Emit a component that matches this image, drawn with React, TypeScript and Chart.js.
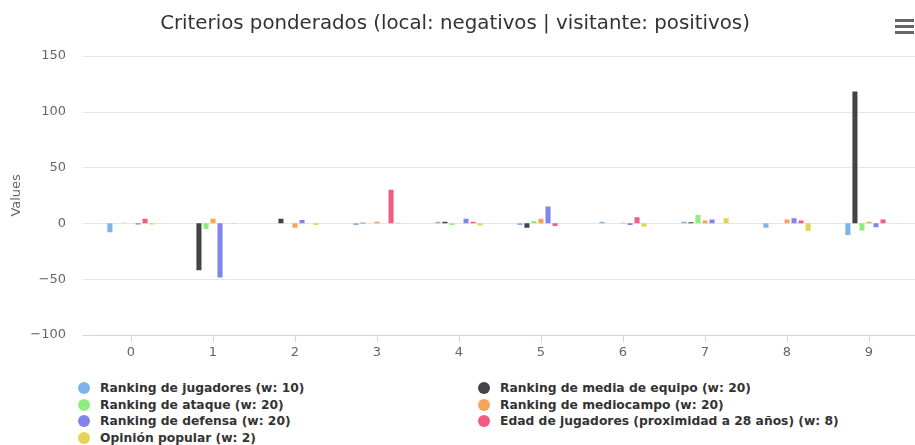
import React, { useEffect, useRef } from "react";
import { Chart, registerables } from "chart.js";

Chart.register(...registerables);

const categories = ["0", "1", "2", "3", "4", "5", "6", "7", "8", "9"];

const seriesNames = [
  "Ranking de jugadores (w: 10)",
  "Ranking de media de equipo (w: 20)",
  "Ranking de ataque (w: 20)",
  "Ranking de mediocampo (w: 20)",
  "Ranking de defensa (w: 20)",
  "Edad de jugadores (proximidad a 28 años) (w: 8)",
  "Opinión popular (w: 2)",
];

const seriesColors = ["#7cb5ec", "#434348", "#90ed7d", "#f7a35c", "#8085e9", "#f15c80", "#e4d354"];

const rankingJugadores = [-8, 0, 0, -1.5, 1.5, -1.5, 1.5, 1.5, -4, -10.5];
const rankingMediaEquipo = [0, -42, 4, 0.5, 1.5, -4, 0, 1, 0, 118];
const rankingAtaque = [0.5, -5, 0, 0, -1.5, 2, 0, 7.5, 0, -6.5];
const rankingMediocampo = [0, 4, -4, 1.5, 0, 4, 0.5, 2.5, 3.5, 1.5];
const rankingDefensa = [-1, -48.5, 3, 0, 4, 15, -1.5, 3.5, 4.5, -3.5];
const edadJugadores = [4, 0, 0, 30, 1.5, -2.5, 5.5, 0, 2.5, 3.5];
const opinionPopular = [-1, -0.5, -1.5, 0.5, -2, 0, -3, 4.5, -7, 0];

const seriesValues = [
  rankingJugadores,
  rankingMediaEquipo,
  rankingAtaque,
  rankingMediocampo,
  rankingDefensa,
  edadJugadores,
  opinionPopular,
];

const yMin = -100;
const yMax = 150;
const yStep = 50;

const FONT = "'DejaVu Sans', sans-serif";

const extendedGrid = {
  id: "extendedGrid",
  beforeDatasetsDraw(chart: any) {
    const { ctx, chartArea, scales } = chart;
    const y = scales.y;
    ctx.save();
    ctx.lineWidth = 1;
    y.ticks.forEach((t: any) => {
      const py = Math.round(y.getPixelForValue(t.value)) + 0.5;
      ctx.strokeStyle = t.value === yMin ? "#ccd6eb" : "#e6e6e6";
      ctx.beginPath();
      ctx.moveTo(chartArea.left - 7, py);
      ctx.lineTo(chart.width, py);
      ctx.stroke();
    });
    ctx.restore();
  },
};

export default function App() {
  const canvasRef = useRef<HTMLCanvasElement | null>(null);

  useEffect(() => {
    if (!canvasRef.current) return;
    const chart = new Chart(canvasRef.current, {
      type: "bar",
      data: {
        labels: categories,
        datasets: seriesValues.map((vals, i) => ({
          label: seriesNames[i],
          data: vals,
          backgroundColor: seriesColors[i],
          borderWidth: 0,
          categoryPercentage: 0.6,
          barPercentage: 0.72,
        })),
      },
      plugins: [extendedGrid],
      options: {
        responsive: false,
        animation: false,
        layout: { padding: { left: 0, right: 5, top: 0, bottom: 0 } },
        plugins: {
          legend: { display: false },
          tooltip: { enabled: false },
          title: {
            display: true,
            text: "Criterios ponderados (local: negativos | visitante: positivos)",
            color: "#333333",
            font: { family: FONT, size: 19.8, weight: "normal" },
            padding: { top: 12, bottom: 20 },
          },
        },
        scales: {
          x: {
            type: "category",
            offset: true,
            grid: {
              display: true,
              drawOnChartArea: false,
              drawTicks: true,
              tickLength: 7,
              offset: false,
              color: "#ccd6eb",
            },
            border: { display: false },
            ticks: {
              color: "#666666",
              font: { family: FONT, size: 13 },
              padding: 3,
              maxRotation: 0,
            },
            afterFit: (s: any) => {
              s.height = 35;
            },
          },
          y: {
            min: yMin,
            max: yMax,
            grid: { display: false, drawTicks: false },
            border: { display: false },
            ticks: {
              stepSize: yStep,
              color: "#666666",
              font: { family: FONT, size: 13 },
              padding: 24,
              callback: (v: any) => (Number(v) < 0 ? "\u2212" + Math.abs(Number(v)) : String(v)),
            },
            title: {
              display: true,
              text: "Values",
              color: "#666666",
              font: { family: FONT, size: 13 },
              padding: { top: 9, bottom: 0 },
            },
            afterFit: (s: any) => {
              s.width = 90;
            },
          },
        },
      },
    });
    return () => chart.destroy();
  }, []);

  return (
    <div style={{ position: "absolute", left: 0, top: 0, width: 915, height: 445, background: "#fff", overflow: "hidden" }}>
      <canvas ref={canvasRef} width={915} height={370} style={{ position: "absolute", left: 0, top: 0 }} />
      {[0, 1, 2].map((k) => (
        <div
          key={k}
          style={{ position: "absolute", left: 895, top: 19 + k * 6, width: 19, height: 3, background: "#666666" }}
        />
      ))}
      {seriesNames.map((name, i) => {
        const col = i % 2;
        const row = Math.floor(i / 2);
        const cy = 388 + row * 16.7;
        const cx = col === 0 ? 84 : 484;
        return (
          <div key={name}>
            <div
              style={{
                position: "absolute",
                left: cx - 6,
                top: cy - 6,
                width: 12,
                height: 12,
                borderRadius: 6,
                background: seriesColors[i],
              }}
            />
            <div
              style={{
                position: "absolute",
                left: cx + 16,
                top: cy - 8,
                height: 16,
                lineHeight: "16px",
                fontFamily: FONT,
                fontWeight: "bold",
                fontSize: 12.3,
                color: "#333333",
                whiteSpace: "nowrap",
              }}
            >
              {name}
            </div>
          </div>
        );
      })}
    </div>
  );
}
